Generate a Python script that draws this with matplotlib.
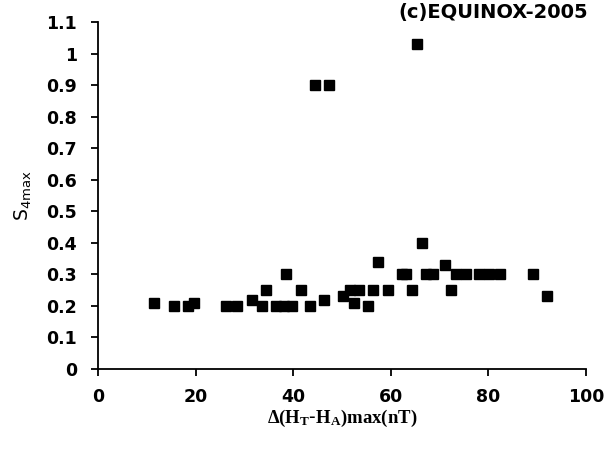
import matplotlib
matplotlib.use('Agg')
import matplotlib.pyplot as plt

plt.rcParams['font.family'] = ['DejaVu Sans']
plt.rcParams['mathtext.fontset'] = 'custom'
plt.rcParams['mathtext.rm'] = 'Liberation Serif:bold'
plt.rcParams['mathtext.it'] = 'Liberation Serif:bold'
plt.rcParams['mathtext.bf'] = 'Liberation Serif:bold'
plt.rcParams['mathtext.sf'] = 'DejaVu Sans'

# Delta(HT-HA)max (nT) vs S4max, equinox 2005
dh = [11.5, 15.6, 18.5, 19.7, 26.3, 28.4, 31.5, 33.5, 34.5, 36.5,
      38.1, 38.5, 39.7, 41.5, 43.4, 44.5, 46.4, 47.4, 50.3, 51.6,
      52.5, 53.5, 55.4, 56.4, 57.3, 59.4, 62.2, 63.2, 64.3, 65.3,
      66.3, 67.3, 68.7, 71.2, 72.3, 73.3, 75.4, 78.1, 80.2, 82.4,
      89.2, 92.1]
s4 = [0.21, 0.20, 0.20, 0.21, 0.20, 0.20, 0.22, 0.20, 0.25, 0.20,
      0.20, 0.30, 0.20, 0.25, 0.20, 0.90, 0.22, 0.90, 0.23, 0.25,
      0.21, 0.25, 0.20, 0.25, 0.34, 0.25, 0.30, 0.30, 0.25, 1.03,
      0.40, 0.30, 0.30, 0.33, 0.25, 0.30, 0.30, 0.30, 0.30, 0.30,
      0.30, 0.23]

xticks = [0, 20, 40, 60, 80, 100]
yticks = [0, 0.1, 0.2, 0.3, 0.4, 0.5, 0.6, 0.7, 0.8, 0.9, 1, 1.1]
ytick_labels = ['0', '0.1', '0.2', '0.3', '0.4', '0.5', '0.6', '0.7', '0.8', '0.9', '1', '1.1']

fig = plt.figure(figsize=(6.1, 4.5), dpi=100)
ax = fig.add_axes([0.1607, 0.18, 0.80, 0.771])

ax.plot(dh, s4, 's', color='black', markersize=7, clip_on=False)

ax.set_xlim(0, 100)
ax.set_ylim(0, 1.1)
ax.set_xticks(xticks)
ax.set_xticklabels([str(t) for t in xticks], fontsize=12.5, fontweight='bold')
ax.set_yticks(yticks)
ax.set_yticklabels(ytick_labels, fontsize=12.5, fontweight='bold')
ax.tick_params(direction='out', length=5, width=1.3)
ax.tick_params(axis='y', pad=10)
ax.tick_params(axis='x', pad=9)

for side in ['top', 'right']:
    ax.spines[side].set_visible(False)
for side in ['left', 'bottom']:
    ax.spines[side].set_linewidth(1.3)

ax.set_xlabel(r'$\Delta(\mathrm{H_T}$-$\mathrm{H_A})\mathrm{max(nT)}$', fontsize=13.5, labelpad=1)
ax.set_ylabel(r'$\mathsf{S_{4max}}$', fontsize=13.5, labelpad=9)

fig.text(0.964, 0.972, '(c)EQUINOX-2005', fontsize=14, fontweight='bold',
         ha='right', va='center')

fig.savefig('out.png', dpi=100)
